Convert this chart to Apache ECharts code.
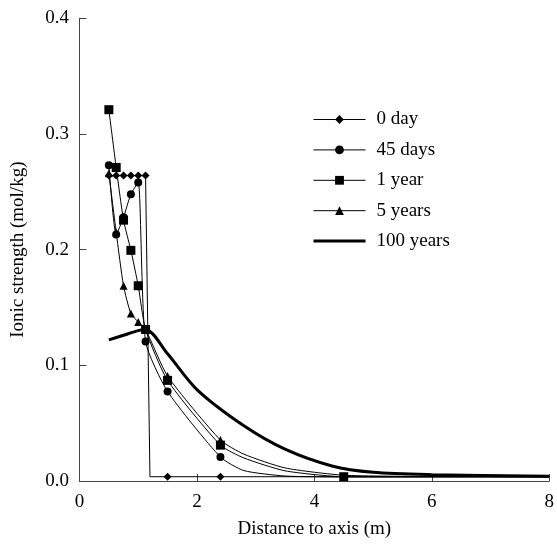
<!DOCTYPE html>
<html>
<head>
<meta charset="utf-8">
<script src="https://cdn.jsdelivr.net/npm/echarts@6/dist/echarts.min.js"></script>
<style>
  html, body { margin: 0; padding: 0; background: #fff; }
  #chart { width: 557px; height: 544px; }
</style>
</head>
<body>
<div id="chart"></div>
<script>
// distance to axis (m)
var xDay0 = [0.5, 0.625, 0.75, 0.875, 1.0, 1.125, 1.2, 1.5, 2.4, 8];
var xThin = [0.5, 0.625, 0.75, 0.875, 1.0, 1.125, 1.5, 2.4, 2.8, 3.5, 4.5, 6, 8];
var x100y = [0.5, 0.75, 1.0, 1.125, 1.5, 2.0, 2.8, 3.5, 4.3, 5.0, 6.0, 8.0];

// ionic strength (mol/kg)
var day0 = [0.264, 0.264, 0.264, 0.264, 0.264, 0.264, 0.0037, 0.0037, 0.0037, 0.0037];
var days45 = [0.273, 0.213, 0.228, 0.248, 0.258, 0.1205, 0.0774, 0.0207, 0.009, 0.0043, 0.0035, 0.0035, 0.0035];
var year1 = [0.321, 0.271, 0.2255, 0.1994, 0.1688, 0.131, 0.087, 0.031, 0.0199, 0.0088, 0.0037, 0.0036, 0.0036];
var years5 = [0.266, 0.215, 0.1688, 0.1447, 0.1375, 0.131, 0.0907, 0.0354, 0.0232, 0.0113, 0.005, 0.004, 0.004];
var years100 = [0.122, 0.126, 0.130, 0.131, 0.110, 0.079, 0.0477, 0.0275, 0.013, 0.0075, 0.0055, 0.0042];

// which points carry a marker
var markDay0 = [0, 1, 2, 3, 4, 5, 7, 8];
var markThin = [0, 1, 2, 3, 4, 5, 6, 7];
var markYear1 = [0, 1, 2, 3, 4, 5, 6, 7, 10];

var xTicks = [0, 2, 4, 6, 8];
var yTicks = [0, 0.1, 0.2, 0.3, 0.4];

function pts(xs, ys, marks) {
    return xs.map(function (x, i) {
        var d = { value: [x, ys[i]] };
        if (marks.indexOf(i) < 0) d.symbol = 'none';
        return d;
    });
}

function thin(name, data, symbol, size, smooth) {
    return {
        name: name,
        type: 'line',
        data: data,
        symbol: symbol,
        symbolSize: size,
        smooth: smooth,
        showSymbol: true,
        lineStyle: { color: '#000', width: 1 },
        itemStyle: { color: '#000' },
        z: 3
    };
}

var font = '"Liberation Serif", "Times New Roman", serif';
var fs = 19;
var thinLeg = { width: 1, color: '#000' };
var myChart = echarts.init(document.getElementById('chart'));

var option = {
    animation: false,
    backgroundColor: '#fff',
    textStyle: { fontFamily: font, color: '#000' },
    grid: { left: 79.5, right: 7, top: 18.3, bottom: 55.7 },
    legend: {
        orient: 'vertical',
        left: 307,
        top: 105,
        itemWidth: 52,
        itemHeight: 11,
        itemGap: 11.4,
        textStyle: { fontFamily: font, fontSize: fs, color: '#000', padding: [0, 0, 0, 6] },
        data: [
            { name: '0 day', lineStyle: thinLeg },
            { name: '45 days', lineStyle: thinLeg },
            { name: '1 year', lineStyle: thinLeg },
            { name: '5 years', lineStyle: thinLeg },
            { name: '100 years', itemStyle: { opacity: 0 }, lineStyle: { width: 3, color: '#000' } }
        ]
    },
    xAxis: {
        type: 'value',
        min: xTicks[0],
        max: xTicks[xTicks.length - 1],
        interval: 2,
        name: 'Distance to axis (m)',
        nameLocation: 'middle',
        nameGap: 39,
        nameTextStyle: { fontFamily: font, fontSize: fs, color: '#000' },
        axisLine: { lineStyle: { color: '#444', width: 1 } },
        axisTick: { inside: true, length: 7, lineStyle: { color: '#444' } },
        axisLabel: { fontFamily: font, fontSize: fs, color: '#000', margin: 12 },
        splitLine: { show: false }
    },
    yAxis: {
        type: 'value',
        min: yTicks[0],
        max: yTicks[yTicks.length - 1],
        interval: 0.1,
        name: 'Ionic strength (mol/kg)',
        nameLocation: 'middle',
        nameGap: 52,
        nameTextStyle: { fontFamily: font, fontSize: fs, color: '#000' },
        axisLine: { show: true, lineStyle: { color: '#444', width: 1 } },
        axisTick: { show: true, inside: true, length: 7, lineStyle: { color: '#444' } },
        axisLabel: {
            fontFamily: font, fontSize: fs, color: '#000', margin: 10.5,
            formatter: function (v) { return v.toFixed(1); }
        },
        splitLine: { show: false }
    },
    series: [
        {
            name: '100 years',
            type: 'line',
            data: x100y.map(function (x, i) { return [x, years100[i]]; }),
            symbol: 'none',
            smooth: 0.3,
            lineStyle: { color: '#000', width: 3 },
            itemStyle: { color: '#000' },
            z: 2
        },
        thin('0 day', pts(xDay0, day0, markDay0), 'diamond', 8, false),
        thin('45 days', pts(xThin, days45, markThin), 'circle', 8, 0.2),
        thin('5 years', pts(xThin, years5, markThin), 'triangle', 8, 0.2),
        thin('1 year', pts(xThin, year1, markYear1), 'rect', 9, 0.2)
    ]
};

myChart.setOption(option);
</script>
</body>
</html>
